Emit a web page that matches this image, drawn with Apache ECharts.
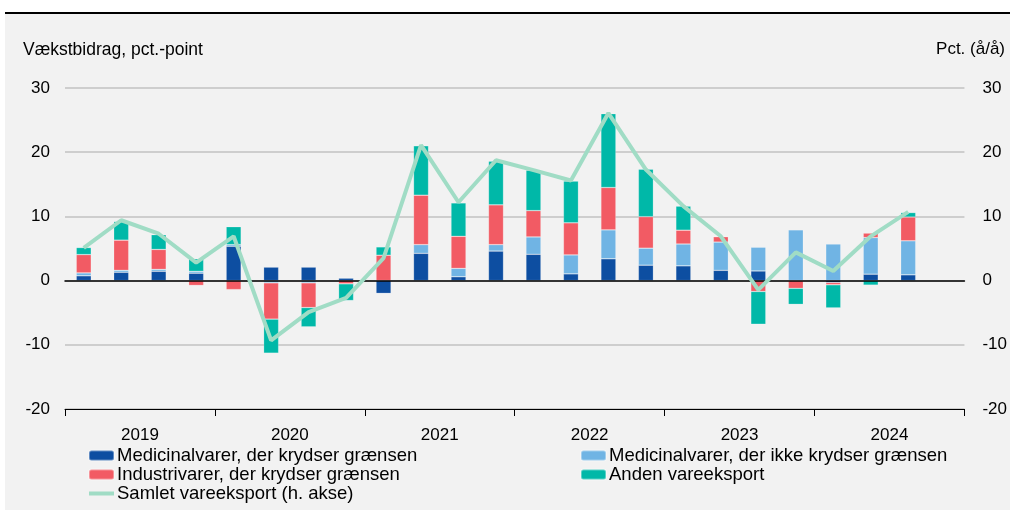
<!DOCTYPE html>
<html>
<head>
<meta charset="utf-8">
<script src="https://cdn.jsdelivr.net/npm/echarts@6/dist/echarts.min.js"></script>
<style>
  html, body { margin: 0; padding: 0; background: #ffffff; }
  #wrap { position: relative; width: 1010px; height: 510px; overflow: hidden; }
  #panel { position: absolute; left: 5px; top: 14px; right: 0; bottom: 0; background: #f2f2f2; }
  #rule { position: absolute; left: 5px; top: 12px; right: 0; height: 2px; background: #000; }
  #chart { position: absolute; left: 0; top: 0; width: 1010px; height: 510px; }
</style>
</head>
<body>
<div id="wrap">
  <div id="panel"></div>
  <div id="rule"></div>
  <div id="chart"></div>
</div>
<script>
// Kvartaler 2019K1–2024K3
const years = ['2019', '2020', '2021', '2022', '2023', '2024'];
const quarters = [];
years.forEach(y => ['K1', 'K2', 'K3', 'K4'].forEach(q => quarters.push(y + q)));
quarters.pop(); // seneste observation er 2024K3

const yTicks = { min: -20, max: 30, interval: 10 };

// Vækstbidrag, pct.-point
const medKrydser = [0.75, 1.3, 1.45, 1.15,  5.35, 2.1, 2.1, 0.4,  -2.0, 4.25, 0.6, 4.6,  4.1, 1.05, 3.4, 2.4,  2.3, 1.6, 1.5, 0.0,  -0.3, 1.0, 0.9];
const medIkkeKrydser = [0.45, 0.3, 0.3, 0.3,  0.25, -0.35, -0.35, 0.0,  0.0, 1.35, 1.3, 1.0,  2.7, 2.95, 4.5, 2.65,  3.4, 4.4, 3.7, 7.9,  5.7, 5.7, 5.3];
const industri = [2.85, 4.7, 3.1, -0.75,  -1.4, -5.65, -3.85, -0.5,  3.95, 7.7, 5.0, 6.2,  4.1, 5.0, 6.6, 4.9,  2.15, 0.85, -1.7, -1.2,  -0.35, 0.7, 3.7];
const anden = [1.1, 2.9, 2.3, 1.95,  2.8, -5.3, -3.0, -2.6,  1.3, 7.7, 5.2, 6.8,  6.3, 6.5, 11.5, 7.4,  3.75, 0.0, -5.1, -2.5,  -3.6, -0.7, 0.7];
// Samlet vareeksport, pct. (å/å)
const samlet = [5.1, 9.4, 7.3, 2.8,  6.9, -9.3, -4.9, -2.7,  3.5, 21.1, 12.2, 18.75,  17.2, 15.6, 26.1, 17.3,  11.6, 6.9, -1.45, 4.4,  1.5, 6.9, 10.7];

const names = [
  'Medicinalvarer, der krydser grænsen',
  'Medicinalvarer, der ikke krydser grænsen',
  'Industrivarer, der krydser grænsen',
  'Anden vareeksport',
  'Samlet vareeksport (h. akse)'
];
const colors = ['#0d4ea1', '#70b4e4', '#f25b64', '#00b8a8', '#a0dcc5'];

const font = "'Liberation Sans', Arial, sans-serif";
const txt = { fontFamily: font, fontSize: 17, color: '#000' };
const legTxt = { fontFamily: font, fontSize: 18.5, color: '#000', lineHeight: 18, padding: [0, 0, 0, -2] };

function barSeries(i, data) {
  return {
    name: names[i], type: 'bar', stack: 'bidrag', data: data,
    barWidth: 15, xAxisIndex: 0, yAxisIndex: 0,
    itemStyle: { color: colors[i], borderColor: 'rgba(255,255,255,0.35)', borderWidth: 0.6 },
    emphasis: { disabled: true }
  };
}

const chart = echarts.init(document.getElementById('chart'), null, { renderer: 'canvas' });
chart.setOption({
  backgroundColor: 'transparent',
  animation: false,
  textStyle: { fontFamily: font },
  grid: { left: 65, right: 45, top: 88, bottom: 101, containLabel: false },
  xAxis: [
    {
      type: 'category', data: quarters, boundaryGap: true,
      min: 0, max: 23,
      axisLine: { onZero: true, lineStyle: { color: '#000', width: 1.5 } },
      axisTick: { show: false }, axisLabel: { show: false }, splitLine: { show: false },
      z: 5
    },
    {
      type: 'category', data: years, boundaryGap: true, position: 'bottom',
      axisLine: { onZero: false, lineStyle: { color: '#000', width: 1 } },
      axisTick: { show: true, length: 7, lineStyle: { color: '#000', width: 1 } },
      axisLabel: Object.assign({ margin: 18 }, txt)
    }
  ],
  yAxis: [
    {
      type: 'value', min: yTicks.min, max: yTicks.max, interval: yTicks.interval,
      axisLine: { show: false }, axisTick: { show: false },
      axisLabel: Object.assign({ margin: 15 }, txt),
      splitLine: { lineStyle: { color: '#c2c2c2', width: 1.5 } }
    },
    {
      type: 'value', min: yTicks.min, max: yTicks.max, interval: yTicks.interval,
      position: 'right',
      axisLine: { show: false }, axisTick: { show: false },
      axisLabel: Object.assign({ margin: 18 }, txt),
      splitLine: { show: false }
    }
  ],
  legend: [
    {
      left: 88, top: 446, orient: 'vertical', itemGap: 0, padding: 0,
      itemWidth: 25, itemHeight: 10, textStyle: legTxt,
      data: [names[0], names[2], { name: names[4], icon: 'path://M0,0 L25,0 L25,4 L0,4 Z' }],
      selectedMode: false
    },
    {
      left: 580, top: 446, orient: 'vertical', itemGap: 0, padding: 0,
      itemWidth: 25, itemHeight: 10, textStyle: legTxt,
      data: [names[1], names[3]],
      selectedMode: false
    }
  ],
  graphic: [
    { type: 'text', left: 23, top: 41, style: { text: 'Vækstbidrag, pct.-point', font: '17.5px ' + font, fill: '#000' } },
    { type: 'text', right: 5, top: 41, style: { text: 'Pct. (å/å)', font: '17px ' + font, fill: '#000' } }
  ],
  series: [
    barSeries(0, medKrydser),
    barSeries(1, medIkkeKrydser),
    barSeries(2, industri),
    barSeries(3, anden),
    {
      name: names[4], type: 'line', data: samlet, xAxisIndex: 0, yAxisIndex: 1,
      showSymbol: false, symbol: 'none',
      lineStyle: { color: colors[4], width: 4 }, itemStyle: { color: colors[4] },
      z: 10, emphasis: { disabled: true }
    }
  ]
});
</script>
</body>
</html>
